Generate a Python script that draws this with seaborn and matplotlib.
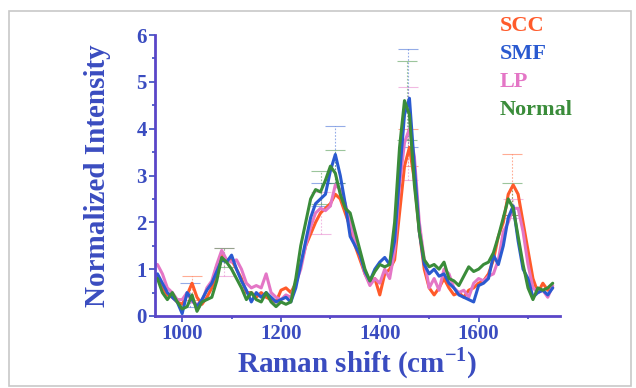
import numpy as np
import pandas as pd
import matplotlib
matplotlib.use("Agg")
import matplotlib.pyplot as plt
from matplotlib.patches import Rectangle
from matplotlib.ticker import MultipleLocator
import seaborn as sns

shift = list(range(950, 1751, 10))

scc = [0.85, 0.6, 0.45, 0.4, 0.3, 0.25, 0.45, 0.7, 0.4, 0.25,
       0.4, 0.6, 0.9, 1.3, 1.2, 1.2, 1.0, 0.8, 0.5, 0.5,
       0.4, 0.5, 0.4, 0.35, 0.3, 0.55, 0.6, 0.5, 0.7, 1.1,
       1.5, 1.75, 2.0, 2.2, 2.3, 2.4, 2.6, 2.5, 2.2, 1.9,
       1.5, 1.2, 0.9, 0.7, 0.8, 0.45, 0.9, 1.0, 1.2, 2.2,
       3.2, 3.6, 2.9, 1.8, 1.0, 0.6, 0.45, 0.6, 0.8, 0.6,
       0.45, 0.5, 0.4, 0.55, 0.6, 0.7, 0.75, 0.9, 1.2, 1.7,
       2.0, 2.6, 2.8, 2.6, 2.0, 1.4, 0.8, 0.5, 0.7, 0.55, 0.6]

smf = [0.9, 0.7, 0.5, 0.4, 0.3, 0.05, 0.5, 0.35, 0.2, 0.35,
       0.55, 0.7, 0.95, 1.2, 1.15, 1.3, 1.0, 0.75, 0.55, 0.3,
       0.5, 0.4, 0.5, 0.4, 0.3, 0.35, 0.4, 0.3, 0.6, 1.1,
       1.6, 2.1, 2.4, 2.5, 2.6, 3.1, 3.45, 3.0, 2.4, 1.7,
       1.5, 1.3, 0.95, 0.75, 1.0, 1.15, 1.25, 1.1, 1.6, 3.0,
       4.3, 4.65, 3.2, 1.8, 1.1, 0.9, 1.0, 0.85, 0.9, 0.7,
       0.6, 0.45, 0.4, 0.35, 0.3, 0.65, 0.7, 0.8, 1.3, 1.1,
       1.5, 2.1, 2.35, 1.6, 1.0, 0.8, 0.4, 0.5, 0.55, 0.45, 0.6]

lp = [1.1, 0.9, 0.6, 0.5, 0.35, 0.35, 0.5, 0.3, 0.25, 0.3,
      0.6, 0.75, 1.1, 1.4, 1.2, 1.15, 1.2, 1.0, 0.7, 0.6,
      0.65, 0.6, 0.9, 0.5, 0.4, 0.35, 0.45, 0.4, 0.7, 1.0,
      1.5, 1.9, 2.2, 2.3, 2.25, 2.35, 2.8, 2.7, 2.4, 2.0,
      1.6, 1.3, 0.9, 0.65, 0.8, 0.7, 1.0, 0.8, 1.4, 2.8,
      3.7, 4.0, 3.4, 2.0, 1.2, 0.6, 0.8, 0.55, 1.0, 0.9,
      0.6, 0.5, 0.55, 0.4, 0.7, 0.8, 0.75, 0.85, 0.9, 1.2,
      1.8, 2.0, 2.3, 2.3, 1.8, 1.1, 0.6, 0.5, 0.55, 0.4, 0.65]

normal = [0.8, 0.5, 0.35, 0.5, 0.3, 0.15, 0.2, 0.45, 0.1, 0.3,
          0.35, 0.4, 0.75, 1.25, 1.15, 1.0, 0.8, 0.6, 0.35, 0.5,
          0.35, 0.3, 0.5, 0.3, 0.2, 0.3, 0.25, 0.3, 0.8, 1.5,
          2.0, 2.5, 2.7, 2.65, 2.9, 3.2, 3.05, 2.6, 2.3, 2.2,
          1.8, 1.4, 1.0, 0.75, 0.95, 1.1, 1.05, 1.1, 2.0, 3.6,
          4.6, 4.3, 2.8, 1.8, 1.2, 1.05, 1.1, 1.0, 1.15, 0.8,
          0.75, 0.65, 0.85, 1.05, 0.95, 1.0, 1.1, 1.15, 1.35, 1.7,
          2.1, 2.5, 2.3, 1.7, 1.1, 0.6, 0.35, 0.6, 0.55, 0.6, 0.7]

groups = ["SCC", "LP", "SMF", "Normal"]
colors = {"SCC": "#ff5a2a", "SMF": "#2a5ad0", "LP": "#e476c6", "Normal": "#3a8c3a"}

# error bars: x, centre, half-width
err_x = {"SCC": [1020, 1458, 1668], "SMF": [1015, 1280, 1310, 1458],
         "LP": [1085, 1280, 1458, 1670], "Normal": [1085, 1280, 1310, 1455, 1668]}
err_y = {"SCC": [0.6, 3.6, 2.8], "SMF": [0.45, 2.6, 3.45, 4.65],
         "LP": [1.15, 2.2, 3.9, 2.3], "Normal": [1.25, 2.75, 3.2, 4.6, 2.5]}
err_e = {"SCC": [0.25, 0.4, 0.65], "SMF": [0.25, 0.25, 0.6, 1.05],
         "LP": [0.3, 0.45, 1.0, 0.2], "Normal": [0.2, 0.35, 0.35, 0.85, 0.35]}

series = {"SCC": scc, "SMF": smf, "LP": lp, "Normal": normal}
df = pd.concat([pd.DataFrame({"shift": shift, "intensity": series[g], "group": g})
                for g in groups], ignore_index=True)

sns.set_style("white")
plt.rcParams["font.family"] = ["Liberation Serif", "DejaVu Serif"]
plt.rcParams["font.weight"] = "bold"
plt.rcParams["mathtext.fontset"] = "custom"
plt.rcParams["mathtext.rm"] = "Liberation Serif:bold"
plt.rcParams["mathtext.bf"] = "Liberation Serif:bold"

axis_blue = "#3a4cc0"

fig = plt.figure(figsize=(6.36, 3.88), dpi=100)
fig.patches.append(Rectangle((9 / 636, 2 / 388), 622 / 636, 375 / 388,
                             transform=fig.transFigure, fill=False,
                             edgecolor="#c8c8c8", linewidth=1.2))
ax = fig.add_axes([0.2437, 0.1856, 0.637, 0.724])

for g in groups:
    eb = ax.errorbar(err_x[g], err_y[g], yerr=err_e[g], fmt="none",
                     ecolor=colors[g], elinewidth=0.8, capsize=7, capthick=0.8,
                     alpha=0.5)
    for coll in eb[2]:
        coll.set_linestyle((0, (1.5, 1.5)))

sns.lineplot(data=df, x="shift", y="intensity", hue="group", hue_order=groups,
             palette=colors, linewidth=2.2, legend=False, ax=ax)

ax.set_xlim(945, 1765)
ax.set_ylim(0, 6)
ax.xaxis.set_major_locator(MultipleLocator(200))
ax.xaxis.set_minor_locator(MultipleLocator(100))
ax.yaxis.set_major_locator(MultipleLocator(1))
ax.yaxis.set_minor_locator(MultipleLocator(0.5))
ax.tick_params(which="both", direction="out", colors=axis_blue, width=1.2,
               labelsize=15, labelcolor=axis_blue)
ax.tick_params(which="major", length=4, bottom=True, left=True, pad=2)
ax.tick_params(which="minor", length=2.5, bottom=True, left=True)
for lbl in ax.get_xticklabels() + ax.get_yticklabels():
    lbl.set_fontweight("bold")

sns.despine(ax=ax)
for s in ["left", "bottom"]:
    ax.spines[s].set_color("#5a46c8")
    ax.spines[s].set_linewidth(2)

ax.set_xlabel("Raman shift (cm$^{-1}$)", fontsize=21, fontweight="bold",
              color=axis_blue, labelpad=1)
ax.set_ylabel("Normalized Intensity", fontsize=21, fontweight="bold",
              color=axis_blue, labelpad=18)

for i, g in enumerate(["SCC", "SMF", "LP", "Normal"]):
    fig.text(500 / 636, 1 - (26 + i * 28) / 388, g, color=colors[g],
             fontsize=16, fontweight="bold", va="center", ha="left")

fig.savefig("out.png", dpi=100)
